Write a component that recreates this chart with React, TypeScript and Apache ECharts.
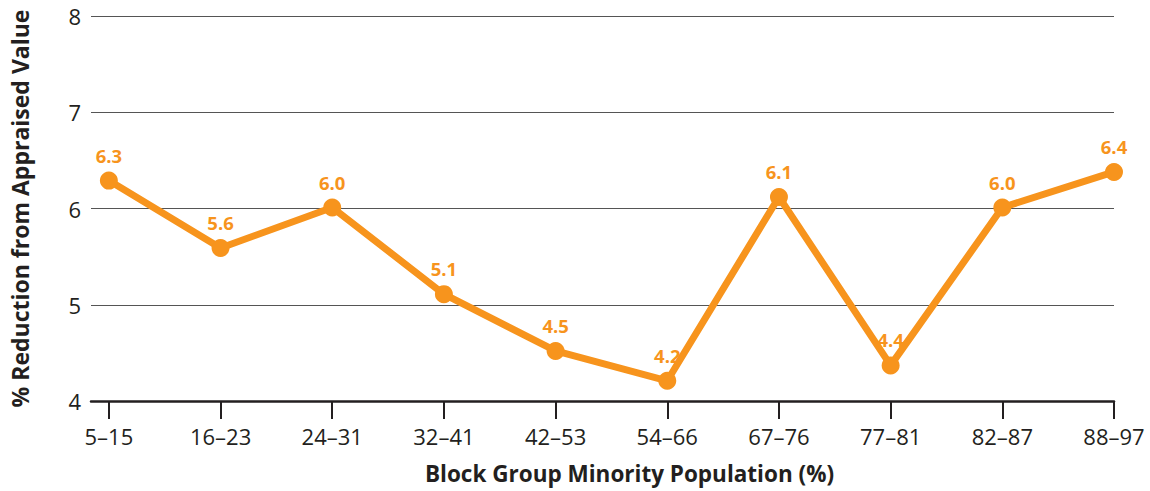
import React, { useEffect, useRef } from "react";
import * as echarts from "echarts";

const categories = ["5–15", "16–23", "24–31", "32–41", "42–53", "54–66", "67–76", "77–81", "82–87", "88–97"];
const values = [6.29, 5.59, 6.01, 5.11, 4.52, 4.21, 6.12, 4.37, 6.01, 6.38];
const yTicks = [4, 5, 6, 7, 8];

export default function App() {
  const ref = useRef<HTMLDivElement>(null);
  useEffect(() => {
    const chart = echarts.init(ref.current!, null, { renderer: "svg" });
    const idx = categories.map((_, i) => i);
    const font = "'Open Sans', 'Noto Sans', sans-serif";
    chart.setOption({
      animation: false,
      textStyle: { fontFamily: font },
      grid: { left: 87, right: 36, top: 16, bottom: 90 },
      xAxis: {
        type: "value",
        min: -0.16,
        max: 9,
        name: "Block Group Minority Population (%)",
        nameLocation: "middle",
        nameGap: 61,
        nameTextStyle: { fontSize: 22.5, fontWeight: "bold", color: "#231f20", fontFamily: font, padding: [0, 0, 0, 54] },
        axisLine: { show: true, lineStyle: { color: "#231f20", width: 2.5 } },
        axisTick: { show: true, length: 18, customValues: idx, lineStyle: { color: "#231f20", width: 2 } },
        axisLabel: {
          customValues: idx,
          margin: 24,
          fontSize: 22,
          color: "#231f20",
          fontFamily: font,
          formatter: (v: number) => categories[Math.round(v)] ?? "",
        },
        splitLine: { show: false },
      },
      yAxis: {
        type: "value",
        min: yTicks[0],
        max: yTicks[yTicks.length - 1],
        interval: 1,
        name: "% Reduction from Appraised Value",
        nameLocation: "middle",
        nameGap: 60,
        nameTextStyle: { fontSize: 23, fontWeight: "bold", color: "#231f20", fontFamily: font },
        axisLine: { show: false },
        axisTick: { show: false },
        axisLabel: { margin: 10, fontSize: 22, color: "#231f20", fontFamily: font },
        splitLine: { show: true, lineStyle: { color: "#555555", width: 1.2 } },
      },
      series: [
        {
          type: "line",
          data: values.map((v, i) => [i, v]),
          symbol: "circle",
          symbolSize: 18,
          lineStyle: { color: "#f7941d", width: 7 },
          itemStyle: { color: "#f7941d" },
          label: {
            show: true,
            position: "top",
            distance: 7,
            fontSize: 18.5,
            fontWeight: "bold",
            color: "#f7941d",
            fontFamily: font,
            formatter: (p: any) => p.value[1].toFixed(1),
          },
        },
      ],
    });
    return () => chart.dispose();
  }, []);
  return <div ref={ref} style={{ width: 1150, height: 491, position: "absolute", left: 0, top: 0 }} />;
}
